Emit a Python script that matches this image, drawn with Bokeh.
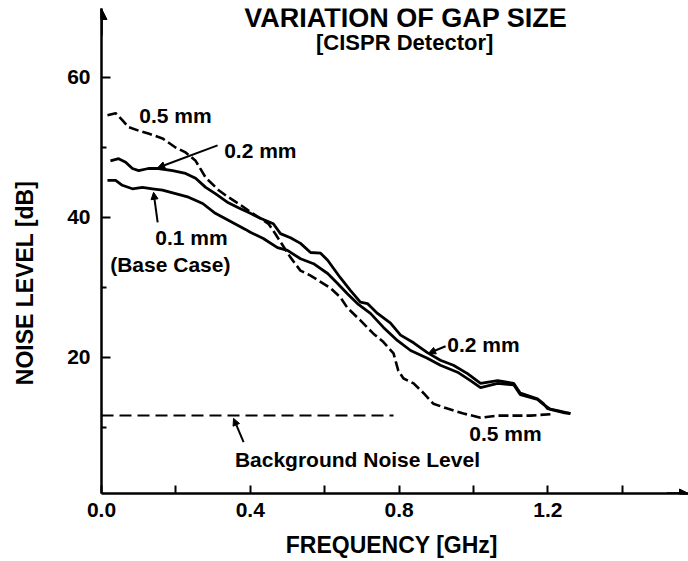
import math
from bokeh.plotting import figure
from bokeh.models import Range1d, FixedTicker, Label, Arrow, NormalHead
from bokeh.embed import file_html
from bokeh.resources import INLINE

# ---------------- data ----------------
freq_05 = [0.016, 0.038, 0.056, 0.073, 0.100, 0.126, 0.164, 0.199, 0.226, 0.253,
           0.280, 0.315, 0.341, 0.368, 0.406, 0.449, 0.468, 0.508, 0.535, 0.562,
           0.616, 0.642, 0.661, 0.696, 0.731, 0.758, 0.785, 0.798, 0.812, 0.839,
           0.866, 0.892, 0.930, 0.973, 1.019, 1.065, 1.108, 1.153, 1.207]
noise_05 = [54.6, 54.9, 53.9, 52.9, 52.4, 52.0, 51.3, 50.0, 49.3, 48.1,
            45.7, 43.9, 42.9, 42.0, 40.6, 39.1, 37.6, 34.3, 32.4, 31.7,
            29.9, 28.6, 27.1, 25.3, 23.4, 22.2, 20.6, 18.1, 17.0, 16.3,
            14.9, 13.4, 12.7, 12.0, 11.4, 11.7, 11.7, 11.7, 11.9]

freq_02 = [0.024, 0.046, 0.065, 0.083, 0.100, 0.126, 0.153, 0.191, 0.226, 0.253,
           0.280, 0.306, 0.341, 0.368, 0.400, 0.427, 0.462, 0.481, 0.508, 0.535,
           0.562, 0.589, 0.608, 0.642, 0.669, 0.696, 0.715, 0.742, 0.777, 0.804,
           0.839, 0.876, 0.911, 0.946, 0.984, 1.019, 1.065, 1.108, 1.126, 1.172,
           1.188, 1.199, 1.226, 1.261]
noise_02 = [48.1, 48.4, 47.9, 47.0, 46.7, 47.0, 47.0, 46.7, 46.3, 45.6,
            44.3, 43.4, 42.1, 41.4, 40.6, 39.9, 39.1, 37.7, 37.1, 36.3,
            35.0, 34.9, 33.9, 31.4, 29.6, 27.9, 27.7, 26.3, 24.9, 23.2,
            22.1, 20.7, 19.6, 18.9, 17.7, 16.3, 16.7, 16.3, 14.9, 14.1,
            13.4, 12.7, 12.4, 12.0]

freq_01 = [0.016, 0.038, 0.056, 0.083, 0.110, 0.137, 0.164, 0.199, 0.234, 0.272,
           0.306, 0.341, 0.387, 0.400, 0.435, 0.473, 0.500, 0.535, 0.570, 0.608,
           0.634, 0.661, 0.688, 0.723, 0.758, 0.796, 0.831, 0.876, 0.911, 0.957,
           0.992, 1.019, 1.065, 1.108, 1.126, 1.172, 1.188, 1.207, 1.245, 1.260]
noise_01 = [45.3, 45.3, 44.6, 44.1, 44.3, 44.1, 43.9, 43.4, 42.9, 42.0,
            40.6, 39.6, 38.3, 37.9, 37.0, 35.7, 35.3, 34.1, 33.4, 32.0,
            30.6, 29.1, 27.7, 26.3, 24.3, 22.4, 21.0, 19.9, 18.9, 17.9,
            16.7, 15.7, 16.3, 16.1, 14.7, 14.0, 13.3, 12.6, 12.1, 12.0]

bg_freq = [0.0, 0.785]
bg_level = [11.7, 11.7]

x_ticks = [0.0, 0.4, 0.8, 1.2]
x_tick_labels = ["0.0", "0.4", "0.8", "1.2"]
x_minor = [0.2, 0.6, 1.0, 1.4]
y_ticks = [20, 40, 60]
y_tick_labels = ["20", "40", "60"]
y_minor = [10, 30, 50]

title_text = "VARIATION OF GAP SIZE"
subtitle_text = "[CISPR Detector]"
x_label = "FREQUENCY  [GHz]"
y_label = "NOISE LEVEL [dB]"

FONT = "Liberation Sans"

# ---------------- figure ----------------
p = figure(width=688, height=561, output_backend="svg", toolbar_location=None,
           x_range=Range1d(0, 1.578), y_range=Range1d(0.571, 69.857),
           min_border_left=101, min_border_right=0, min_border_top=8,
           min_border_bottom=68)
p.grid.visible = False
p.outline_line_color = None
p.background_fill_color = "white"
p.border_fill_color = "white"

for ax in (p.xaxis[0], p.yaxis[0]):
    ax.axis_line_width = 2.5
    ax.axis_line_color = "black"
    ax.major_tick_line_width = 2
    ax.minor_tick_line_width = 2
    ax.major_tick_out = 0
    ax.minor_tick_out = 0
    ax.major_label_text_font = FONT
    ax.major_label_text_font_style = "bold"
    ax.major_label_text_font_size = "21px"
    ax.major_label_text_color = "black"
    ax.axis_label_text_font = FONT
    ax.axis_label_text_font_style = "bold"
    ax.axis_label_text_font_size = "23px"
    ax.axis_label_text_color = "black"

p.xaxis.ticker = FixedTicker(ticks=x_ticks, minor_ticks=x_minor)
p.xaxis.major_label_overrides = dict(zip(x_ticks, x_tick_labels))
p.xaxis.major_tick_in = 8
p.xaxis.minor_tick_in = 8
p.xaxis.major_label_standoff = 9
p.xaxis.axis_label = x_label
p.xaxis.axis_label_standoff = 12

p.yaxis.ticker = FixedTicker(ticks=y_ticks, minor_ticks=y_minor)
p.yaxis.major_label_overrides = dict(zip(y_ticks, y_tick_labels))
p.yaxis.major_tick_in = 9
p.yaxis.minor_tick_in = 5
p.yaxis.major_label_standoff = 11
p.yaxis.major_label_orientation = "horizontal"
# the label sits below the frame centre in the reference: pad its end
p.yaxis.axis_label = y_label + "\u00a0" * 10
p.yaxis.axis_label_standoff = 26

# axis arrow heads
p.add_layout(Arrow(x_start=0, y_start=66.0, x_end=0, y_end=69.857,
                   line_width=2.5, line_color="black",
                   end=NormalHead(size=11, fill_color="black", line_color="black")))
p.add_layout(Arrow(x_start=1.52, y_start=0.571, x_end=1.578, y_end=0.571,
                   line_width=2.5, line_color="black",
                   end=NormalHead(size=9, fill_color="black", line_color="black")))

# ---------------- curves ----------------
p.line(bg_freq, bg_level, line_color="black", line_width=2, line_dash="12 6")
p.line(freq_05, noise_05, line_color="black", line_width=2.6, line_dash="10 4")
p.line(freq_02, noise_02, line_color="black", line_width=2.8)
p.line(freq_01, noise_01, line_color="black", line_width=2.8)

# ---------------- texts ----------------
def lab(x, y, text, size, angle=0.0):
    p.add_layout(Label(x=x, y=y, text=text, text_font=FONT, text_font_style="bold",
                       text_font_size=size, text_align="center",
                       text_baseline="middle", text_color="black", angle=angle))

lab(0.818, 68.5, title_text, "27px")
lab(0.815, 65.0, subtitle_text, "22px")
lab(0.199, 54.6, "0.5 mm", "21px")
lab(0.427, 49.6, "0.2 mm", "21px")
lab(0.242, 37.1, "0.1 mm", "21px")
lab(0.185, 33.3, "(Base Case)", "21px")
lab(1.027, 21.9, "0.2 mm", "21px")
lab(1.086, 9.1, "0.5 mm", "21px")
lab(0.688, 5.4, "Background Noise Level", "21px")

# ---------------- pointer arrows ----------------
def ptr(x0, y0, x1, y1):
    p.add_layout(Arrow(x_start=x0, y_start=y0, x_end=x1, y_end=y1,
                       line_width=2, line_color="black",
                       end=NormalHead(size=7, fill_color="black", line_color="black")))

ptr(0.312, 50.3, 0.151, 47.1)
ptr(0.151, 39.3, 0.140, 43.6)
ptr(0.925, 21.6, 0.879, 20.6)
ptr(0.382, 7.9, 0.355, 11.3)

open("out.html", "w").write(file_html(p, INLINE))
